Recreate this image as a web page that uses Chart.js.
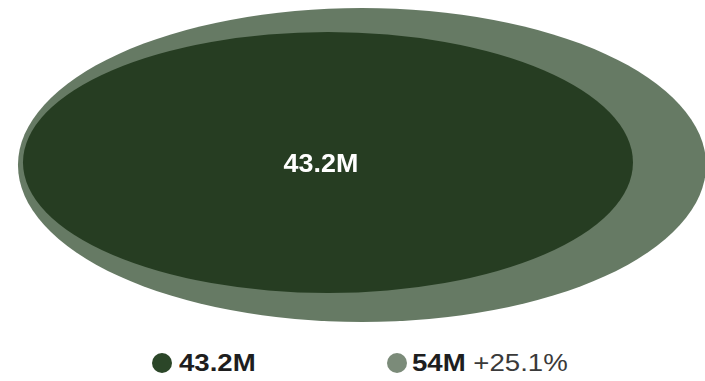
<!DOCTYPE html>
<html>
<head>
<meta charset="utf-8">
<script src="https://cdn.jsdelivr.net/npm/chart.js@4.4.1/dist/chart.umd.min.js"></script>
<style>
  html, body { margin: 0; padding: 0; background: #fff; }
  #wrap { position: relative; width: 705px; height: 381px; overflow: hidden; }
  #legend {
    position: absolute; left: 152px; top: 351px; height: 24px;
    display: flex; align-items: center;
    font-family: "Liberation Sans", Arial, sans-serif; font-size: 24px; line-height: 24px; color: #1e1e1e;
  }
  .item { display: flex; align-items: center; }
  .dot { width: 20px; height: 20px; border-radius: 50%; flex: none; }
  .txt { display: inline-block; transform-origin: 0 50%; transform: scaleX(1.15); white-space: nowrap; }
  .val { font-weight: bold; }
  .chg { font-weight: normal; color: #3a3a3a; }
</style>
</head>
<body>
<div id="wrap">
  <canvas id="chart_one" width="705" height="330"></canvas>
  <div id="legend"></div>
</div>
<script>
// values
var labels = ['43.2M', '54M'];
var values = [43.2, 54];
var change = ['', '+25.1%'];
var colors = ['#263d22', '#667a64'];
var dotColors = ['#2b4628', '#7b8b79'];

var maxV = Math.max.apply(null, values);

// ellipse half-axes (in axis units) grow with the value
function rx(v) { return 48.8 * Math.pow(v / maxV, 0.54); }
function ry(v) { return 47.6 * Math.pow(v / maxV, 0.83); }

// biggest first so the small one sits on top
var order = values.map(function (v, i) { return i; }).sort(function (a, b) { return values[b] - values[a]; });

var points = order.map(function (i) {
    var v = values[i];
    return { x: 2.55 + (maxV - v) * 0.066 + rx(v), y: 50 + (maxV - v) * 0.07, v: v, i: i };
});

var ellipsePlugin = {
    id: 'ellipses',
    afterDatasetsDraw: function (chart) {
        var ctx = chart.ctx;
        var xs = chart.scales.x, ys = chart.scales.y;
        var data = chart.data.datasets[0].data;
        ctx.save();
        data.forEach(function (p) {
            var cx = xs.getPixelForValue(p.x);
            var cy = ys.getPixelForValue(p.y);
            var rpx = Math.abs(xs.getPixelForValue(p.x + rx(p.v)) - cx);
            var rpy = Math.abs(ys.getPixelForValue(p.y + ry(p.v)) - cy);
            ctx.beginPath();
            ctx.ellipse(cx, cy, rpx, rpy, 0, 0, Math.PI * 2);
            ctx.fillStyle = colors[p.i];
            ctx.fill();
        });
        // label of the smallest one in its middle
        var last = data[data.length - 1];
        var lx = xs.getPixelForValue(last.x - 1);
        var ly = ys.getPixelForValue(last.y);
        ctx.translate(lx, ly + 3);
        ctx.scale(1.12, 1.04);
        ctx.fillStyle = '#ffffff';
        ctx.font = 'bold 24px "Liberation Sans", Arial, sans-serif';
        ctx.textAlign = 'center';
        ctx.textBaseline = 'middle';
        ctx.fillText(labels[last.i], 0, 0);
        ctx.restore();
    }
};

var ctx = document.getElementById('chart_one').getContext('2d');
var chart = new Chart(ctx, {
    type: 'scatter',
    data: {
        datasets: [{
            data: points,
            pointRadius: 0,
            pointHoverRadius: 0
        }]
    },
    options: {
        responsive: false,
        animation: false,
        layout: { padding: 0 },
        plugins: { legend: { display: false }, tooltip: { enabled: false } },
        scales: {
            x: { display: false, min: 0, max: 100 },
            y: { display: false, min: 0, max: 100 }
        }
    },
    plugins: [ellipsePlugin]
});

// legend below
var leg = document.getElementById('legend');
labels.forEach(function (l, i) {
    var it = document.createElement('div');
    it.className = 'item';
    it.style.width = i === 0 ? '235px' : 'auto';
    it.innerHTML = '<span class="dot" style="background:' + dotColors[i] + '"></span>' +
        '<span class="txt" style="margin-left:' + (i === 0 ? 7 : 5) + 'px"><span class="val">' + l + '</span>' +
        (change[i] ? '<span class="chg"> ' + change[i] + '</span>' : '') + '</span>';
    leg.appendChild(it);
});
</script>
</body>
</html>
